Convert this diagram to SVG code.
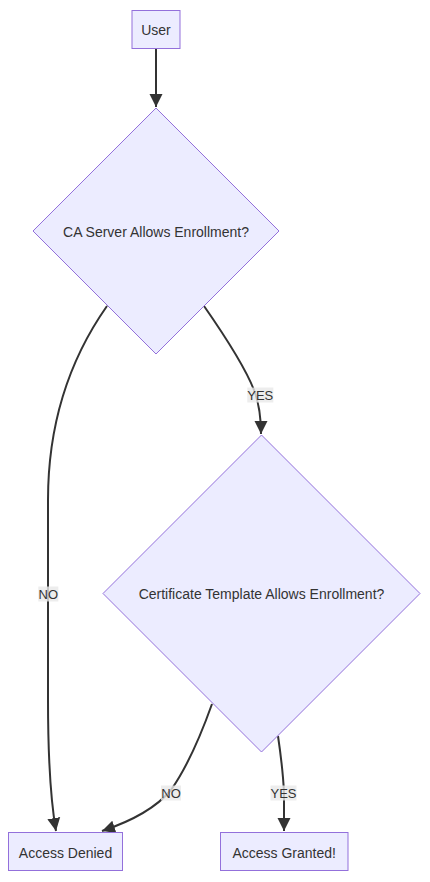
<svg xmlns="http://www.w3.org/2000/svg" width="430" height="882" viewBox="0 0 430 882">
<style>
.node rect, .node polygon { fill: #ECECFF; stroke: #9370DB; stroke-width: 1; }
.node text { font-family: "Liberation Sans", Arial, sans-serif; font-size: 14px; fill: #333; text-anchor: middle; dominant-baseline: central; }
.edge { fill: none; stroke: #333; stroke-width: 2; }
.lbl rect { fill: #e8e8e8; fill-opacity: 0.8; }
.lbl text { font-family: "Liberation Sans", Arial, sans-serif; font-size: 13px; fill: #333; text-anchor: middle; dominant-baseline: central; }
</style>
<defs>
<marker id="arrow" viewBox="0 0 10 10" refX="10" refY="5" markerUnits="userSpaceOnUse" markerWidth="13" markerHeight="14" orient="auto">
<path d="M0,0 L10,5 L0,10 z" fill="#333"/>
</marker>
</defs>
<g id="connectors">
<path class="edge" d="M156,48 L156,107" marker-end="url(#arrow)"/>
<path class="edge" d="M204,306 Q243,362 254,390 Q261,408 261,434" marker-end="url(#arrow)"/>
<path class="edge" d="M107,306 Q48,390 48,500 L48,700 Q48,785 56,831" marker-end="url(#arrow)"/>
<path class="edge" d="M212,704 Q192,760 171,790 Q150,815 102,831" marker-end="url(#arrow)"/>
<path class="edge" d="M278,736 Q283,770 284,793 L284,831" marker-end="url(#arrow)"/>
<g class="lbl">
<rect x="247.3" y="387.5" width="26" height="15"/><text x="260.3" y="395">YES</text>
<rect x="38.3" y="586.5" width="20" height="15"/><text x="48.3" y="594">NO</text>
<rect x="161" y="785.5" width="20" height="15"/><text x="171" y="793">NO</text>
<rect x="270.5" y="785.5" width="26" height="15"/><text x="283.5" y="793">YES</text>
</g>
</g>
<g id="user" class="node">
<rect x="132" y="10.5" width="48" height="38"/>
<text x="156" y="30">User</text>
</g>
<g id="caServer" class="node">
<polygon points="156,108 279,231 156,354 33,231"/>
<text x="156" y="232">CA Server Allows Enrollment?</text>
</g>
<g id="template" class="node">
<polygon points="261.5,435 420,593.5 261.5,752 103,593.5"/>
<text x="261.5" y="594">Certificate Template Allows Enrollment?</text>
</g>
<g id="denied" class="node">
<rect x="8.5" y="832.5" width="114" height="38"/>
<text x="65.5" y="853">Access Denied</text>
</g>
<g id="granted" class="node">
<rect x="220.5" y="832.5" width="127.5" height="38"/>
<text x="284.2" y="853">Access Granted!</text>
</g>
</svg>
